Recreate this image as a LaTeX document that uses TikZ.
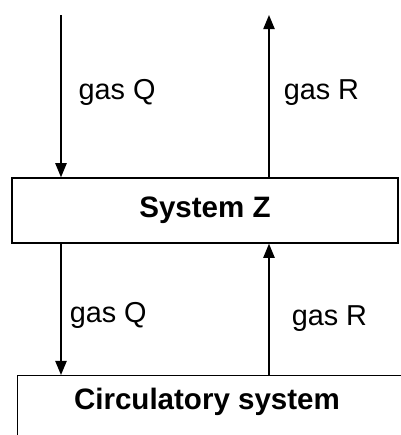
\documentclass[tikz,border=0pt]{standalone}
\usepackage{fontspec}
\setmainfont{Liberation Sans}
\usetikzlibrary{arrows.meta, positioning}

\begin{document}
\begin{tikzpicture}[
    x=0.025cm, y=-0.025cm,
    box/.style={draw, line width=1pt, inner sep=0pt},
    title/.style={font=\fontsize{21}{25}\selectfont\bfseries, inner sep=0pt},
    gaslbl/.style={font=\fontsize{20.5}{24}\selectfont, inner sep=0pt},
    flow/.style={line width=1.1pt, -{Triangle[length=10pt, width=8pt]}}
  ]
  \useasboundingbox (0,0) rectangle (401,435);
  \clip (0,0) rectangle (401,435);

  % the two systems
  \node[box, title, minimum width=9.65cm, minimum height=1.625cm] (sysz) at (205,210.5) {System Z};
  \node[box, anchor=north west, minimum width=9.9cm, minimum height=2cm] (circbox) at (17,375) {};
  \node[title] (circlbl) at (207,402) {Circulatory system};

  % gas exchange with the outside
  \coordinate (qtop) at (61,15);
  \coordinate (rtop) at (269,15);
  \draw[flow] (qtop) -- (qtop |- sysz.north) node[gaslbl, midway, right=0.42cm, yshift=0.1cm] (qin) {gas Q};
  \draw[flow] (sysz.north -| rtop) -- (rtop) node[gaslbl, midway, right=0.35cm, yshift=0.1cm] (rout) {gas R};

  % gas exchange with the blood
  \draw[flow] (sysz.south -| qtop) -- (qtop |- circbox.north) node[gaslbl, midway, right=0.2cm, yshift=-0.15cm] (qdown) {gas Q};
  \draw[flow] (circbox.north -| rtop) -- (sysz.south -| rtop) node[gaslbl, midway, right=0.55cm, yshift=-0.22cm] (rup) {gas R};
\end{tikzpicture}
\end{document}
